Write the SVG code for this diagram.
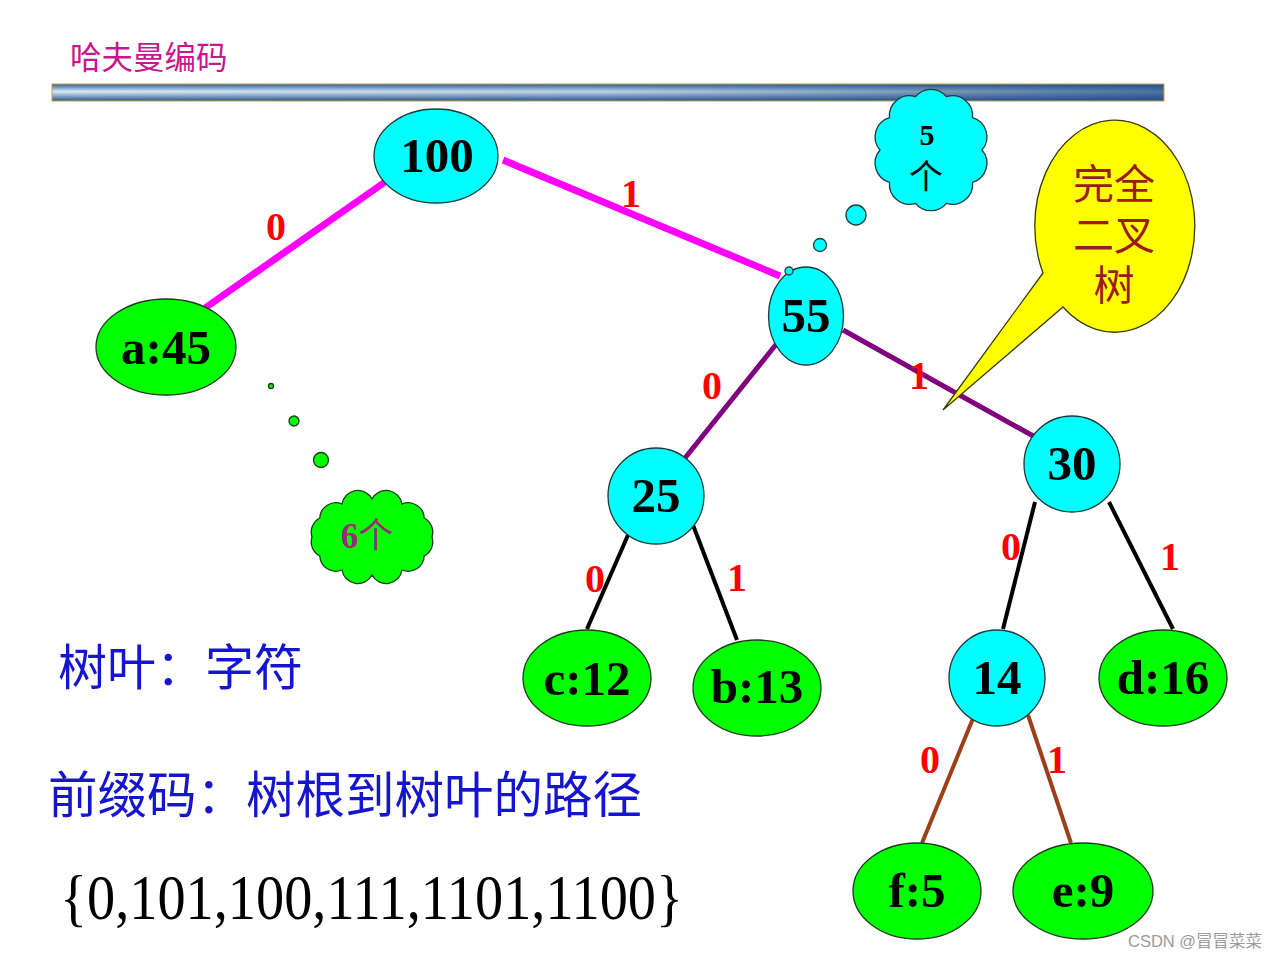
<svg xmlns="http://www.w3.org/2000/svg" width="1280" height="960" viewBox="0 0 1280 960">
<defs>
<linearGradient id="barV" x1="0" y1="0" x2="0" y2="1">
<stop offset="0" stop-color="#2f5f92"/>
<stop offset="0.45" stop-color="#d8ecfa"/>
<stop offset="1" stop-color="#2a588a"/>
</linearGradient>
<linearGradient id="barH" x1="0" y1="0" x2="1" y2="0">
<stop offset="0" stop-color="#1e4a80" stop-opacity="0"/>
<stop offset="0.5" stop-color="#1e4a80" stop-opacity="0.15"/>
<stop offset="1" stop-color="#1e4a80" stop-opacity="0.75"/>
</linearGradient>
</defs>
<style>
.cy{fill:#00FFFF;stroke:#1b3b3b;stroke-width:1.3}
.gr{fill:#00FF00;stroke:#1b3b1b;stroke-width:1.3}
.nt{font-family:"Liberation Serif",serif;font-weight:bold;font-size:49px;fill:#000;text-anchor:middle}
.lb{font-family:"Liberation Serif",serif;font-weight:bold;font-size:40px;fill:#FF0000;text-anchor:middle}
.cjk{font-family:"Noto Sans CJK SC",sans-serif}
.e{fill:none;stroke-linecap:butt}
.mg{stroke:#FF00FF;stroke-width:7}
.pu{stroke:#800080;stroke-width:5}
.bk{stroke:#000;stroke-width:4}
.br{stroke:#9C3F1A;stroke-width:4}
</style>
<rect width="1280" height="960" fill="#fff"/>
<text x="70" y="69" class="cjk" font-size="31.5" fill="#C8168C">哈夫曼编码</text>
<g id="bar">
<rect x="52" y="84" width="1112" height="17" fill="url(#barV)"/>
<rect x="52" y="84" width="1112" height="17" fill="url(#barH)" stroke="#c8a050" stroke-width="1"/>
</g>
<g id="connectors">
<line class="e mg" x1="385" y1="182" x2="205" y2="308"/>
<line class="e mg" x1="503" y1="160" x2="780" y2="276"/>
<line class="e pu" x1="778" y1="342" x2="685" y2="458"/>
<line class="e pu" x1="843" y1="330" x2="1035" y2="437"/>
<line class="e bk" x1="628" y1="535" x2="587" y2="629"/>
<line class="e bk" x1="693" y1="525" x2="737" y2="640"/>
<line class="e bk" x1="1035" y1="502" x2="1003" y2="629"/>
<line class="e bk" x1="1109" y1="502" x2="1173" y2="629"/>
<line class="e br" x1="974" y1="716" x2="922" y2="843"/>
<line class="e br" x1="1028" y1="715" x2="1071" y2="843"/>
</g>
<g id="edge-labels">
<text class="lb" x="276" y="240">0</text>
<text class="lb" x="631" y="207">1</text>
<text class="lb" x="712" y="399">0</text>
<text class="lb" x="919" y="389">1</text>
<text class="lb" x="595" y="592">0</text>
<text class="lb" x="737" y="591">1</text>
<text class="lb" x="1011" y="560">0</text>
<text class="lb" x="1170" y="570">1</text>
<text class="lb" x="930" y="773">0</text>
<text class="lb" x="1057" y="773">1</text>
</g>
<g id="n100"><ellipse class="cy" cx="436" cy="156" rx="62" ry="47"/><text class="nt" x="437" y="172">100</text></g>
<g id="na45"><ellipse class="gr" cx="166" cy="347" rx="70" ry="48"/><text class="nt" x="166" y="364">a:45</text></g>
<g id="n55"><ellipse class="cy" cx="806" cy="316" rx="37.5" ry="49"/><text class="nt" x="806" y="332">55</text></g>
<g id="n25"><ellipse class="cy" cx="656" cy="496" rx="48" ry="48"/><text class="nt" x="656" y="512">25</text></g>
<g id="n30"><ellipse class="cy" cx="1072" cy="464" rx="48" ry="48"/><text class="nt" x="1072" y="480">30</text></g>
<g id="nc12"><ellipse class="gr" cx="587" cy="678" rx="64" ry="48"/><text class="nt" x="587" y="695">c:12</text></g>
<g id="nb13"><ellipse class="gr" cx="757" cy="688" rx="64" ry="48"/><text class="nt" x="757" y="703">b:13</text></g>
<g id="n14"><ellipse class="cy" cx="997" cy="678" rx="48" ry="48"/><text class="nt" x="997" y="694">14</text></g>
<g id="nd16"><ellipse class="gr" cx="1163" cy="678" rx="64" ry="48"/><text class="nt" x="1163" y="694">d:16</text></g>
<g id="nf5"><ellipse class="gr" cx="917" cy="891" rx="64" ry="48"/><text class="nt" x="917" y="907">f:5</text></g>
<g id="ne9"><ellipse class="gr" cx="1083" cy="891" rx="70" ry="48"/><text class="nt" x="1083" y="907">e:9</text></g>
<g id="cloud5">
<circle class="cy" cx="789" cy="271" r="4"/>
<circle class="cy" cx="820" cy="245" r="6.5"/>
<circle class="cy" cx="856" cy="215" r="10"/>
<path class="cy" d="M982,150 A20,20 0 0 1 972.5,182.3 A20,20 0 0 1 946.5,203.3 A20,20 0 0 1 915.5,203.3 A20,20 0 0 1 889.5,182.3 A20,20 0 0 1 880,150 A20,20 0 0 1 889.5,117.7 A20,20 0 0 1 915.5,96.7 A20,20 0 0 1 946.5,96.7 A20,20 0 0 1 972.5,117.7 A20,20 0 0 1 982,150 Z"/>
<text x="927" y="145" font-family="Liberation Serif,serif" font-weight="bold" font-size="30" text-anchor="middle">5</text>
<text x="926" y="189" class="cjk" font-size="34" text-anchor="middle">个</text>
</g>
<g id="cloud6">
<circle class="gr" cx="271" cy="386" r="2.5"/>
<circle class="gr" cx="294" cy="421" r="5"/>
<circle class="gr" cx="321" cy="460" r="7.5"/>
<path class="gr" d="M432,537 A16,16 0 0 1 424.2,556 A16,16 0 0 1 402,570 A16,16 0 0 1 372,575 A16,16 0 0 1 342,570 A16,16 0 0 1 319.8,556 A16,16 0 0 1 312,537 A16,16 0 0 1 319.8,518 A16,16 0 0 1 342,504 A16,16 0 0 1 372,499 A16,16 0 0 1 402,504 A16,16 0 0 1 424.2,518 A16,16 0 0 1 432,537 Z"/>
<text x="367" y="548" text-anchor="middle" font-size="35" fill="#A0287A"><tspan font-family="Liberation Serif,serif" font-weight="bold">6</tspan><tspan font-family="Noto Sans CJK SC,sans-serif">个</tspan></text>
</g>
<g id="callout">
<path d="M1043,273 L943,410 L1063,307 A80,106 0 1 0 1043,273 Z" fill="#FFFF00" stroke="#3a3a00" stroke-width="1.3"/>
<text class="cjk" font-size="41" fill="#9B1B1B" text-anchor="middle"><tspan x="1114" y="199">完全</tspan><tspan x="1114" y="250">二叉</tspan><tspan x="1114" y="300">树</tspan></text>
</g>
<text x="58" y="685" class="cjk" font-size="49" fill="#1515D0">树叶：字符</text>
<text x="48" y="813" class="cjk" font-size="49.5" fill="#1515D0">前缀码：树根到树叶的路径</text>
<text x="60" y="919" font-family="Liberation Serif,serif" font-size="64" textLength="623" lengthAdjust="spacingAndGlyphs" fill="#000">{0,101,100,111,1101,1100}</text>
<text x="1128" y="947" font-family="Liberation Sans,Noto Sans CJK SC,sans-serif" font-size="16.5" fill="#9a9a9a">CSDN @冒冒菜菜</text>
</svg>
